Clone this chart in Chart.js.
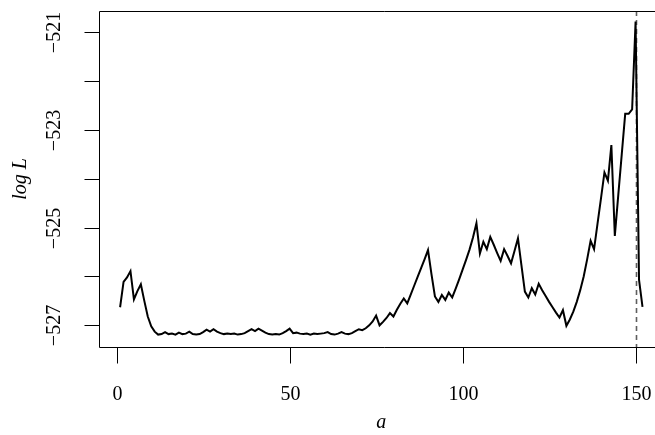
<!DOCTYPE html>
<html>
<head>
<meta charset="utf-8">
<script src="https://cdn.jsdelivr.net/npm/chart.js@4/dist/chart.umd.min.js"></script>
<style>
  html, body { margin: 0; padding: 0; background: #fff; overflow: hidden; }
  #wrap { width: 670px; height: 435px; }
</style>
</head>
<body>
<div id="wrap"><canvas id="chart" width="670" height="435"></canvas></div>
<script>
// a = 1..152
const aValues = [];
for (let i = 1; i <= 152; i++) aValues.push(i);

// log-likelihood
const logL = [
  -526.63, -526.11, -526.02, -525.89, -526.47, -526.30, -526.16, -526.50, -526.82, -527.02,
  -527.13, -527.19, -527.18, -527.14, -527.18, -527.17, -527.19, -527.15, -527.18, -527.17,
  -527.13, -527.18, -527.19, -527.18, -527.14, -527.09, -527.13, -527.08, -527.13, -527.16,
  -527.18, -527.17, -527.18, -527.17, -527.19, -527.18, -527.16, -527.12, -527.08, -527.12,
  -527.07, -527.11, -527.15, -527.18, -527.19, -527.18, -527.19, -527.16, -527.12, -527.07,
  -527.16, -527.15, -527.17, -527.18, -527.17, -527.19, -527.17, -527.18, -527.17, -527.16,
  -527.14, -527.18, -527.19, -527.17, -527.14, -527.17, -527.18, -527.16, -527.12, -527.08,
  -527.10, -527.06, -527.00, -526.92, -526.80, -527.00, -526.93, -526.85, -526.75, -526.82,
  -526.68, -526.56, -526.45, -526.55, -526.37, -526.19, -526.01, -525.83, -525.65, -525.46,
  -525.95, -526.41, -526.52, -526.38, -526.48, -526.33, -526.43, -526.25, -526.06, -525.86,
  -525.66, -525.45, -525.20, -524.91, -525.53, -525.29, -525.44, -525.19, -525.35, -525.52,
  -525.68, -525.44, -525.58, -525.73, -525.48, -525.22, -525.77, -526.31, -526.43, -526.24,
  -526.37, -526.15, -526.28, -526.40, -526.52, -526.63, -526.74, -526.84, -526.69, -527.01,
  -526.88, -526.72, -526.52, -526.28, -526.00, -525.65, -525.27, -525.44, -524.92, -524.40,
  -523.87, -524.04, -523.31, -525.17, -524.33, -523.50, -522.67, -522.67, -522.58, -520.78,
  -526.07, -526.62
];

const xTicks = [0, 50, 100, 150];
const yTicks = [-527, -526, -525, -524, -523, -522, -521];
const yTickLabels = ["\u2212527", "", "\u2212525", "", "\u2212523", "", "\u2212521"];
const markerA = 150;

const FONT = '"Liberation Serif", "DejaVu Serif", serif';

// R-style frame, ticks and labels
const axesPlugin = {
  id: 'rAxes',
  beforeDatasetsDraw(chart) {
    const { ctx, chartArea, scales } = chart;
    const x = Math.round(scales.x.getPixelForValue(markerA)) + 0.5;
    ctx.save();
    ctx.strokeStyle = '#5e5e5e';
    ctx.lineWidth = 1.6;
    ctx.setLineDash([5, 4]);
    ctx.beginPath();
    ctx.moveTo(x, chartArea.top);
    ctx.lineTo(x, chartArea.bottom);
    ctx.stroke();
    ctx.restore();
  },
  afterDraw(chart) {
    const { ctx, chartArea, scales } = chart;
    const l = Math.round(chartArea.left) + 0.5;
    const t = Math.round(chartArea.top) + 0.5;
    const b = Math.round(chartArea.bottom) + 0.5;
    const r = chart.width;
    ctx.save();
    ctx.strokeStyle = '#000';
    ctx.lineWidth = 1;
    ctx.beginPath();
    ctx.moveTo(r, t); ctx.lineTo(l, t); ctx.lineTo(l, b); ctx.lineTo(r, b);
    ctx.stroke();

    // x ticks
    ctx.fillStyle = '#000';
    ctx.font = '20px ' + FONT;
    ctx.textAlign = 'center';
    ctx.textBaseline = 'middle';
    xTicks.forEach(v => {
      const px = Math.round(scales.x.getPixelForValue(v)) + 0.5;
      ctx.beginPath();
      ctx.moveTo(px, b); ctx.lineTo(px, b + 16);
      ctx.stroke();
      ctx.fillText(String(v), px, 395);
    });

    // y ticks
    yTicks.forEach((v, i) => {
      const py = Math.round(scales.y.getPixelForValue(v)) + 0.5;
      ctx.beginPath();
      ctx.moveTo(l, py); ctx.lineTo(l - 15, py);
      ctx.stroke();
      if (yTickLabels[i]) {
        ctx.save();
        ctx.translate(55, py);
        ctx.rotate(-Math.PI / 2);
        ctx.fillText(yTickLabels[i], 0, 0);
        ctx.restore();
      }
    });

    // axis titles
    ctx.font = 'italic 20px ' + FONT;
    ctx.fillText('a', (chartArea.left + chartArea.right) / 2, 423);
    ctx.save();
    ctx.translate(21, (chartArea.top + chartArea.bottom) / 2);
    ctx.rotate(-Math.PI / 2);
    ctx.fillText('log L', 0, 0);
    ctx.restore();
    ctx.restore();
  }
};

new Chart(document.getElementById('chart').getContext('2d'), {
  type: 'line',
  data: {
    datasets: [{
      data: aValues.map((a, i) => ({ x: a, y: logL[i] })),
      borderColor: '#000',
      borderWidth: 2,
      pointRadius: 0,
      tension: 0,
      fill: false
    }]
  },
  options: {
    responsive: false,
    animation: false,
    devicePixelRatio: 1,
    layout: { padding: { left: 99.2, top: 11, right: 6.6, bottom: 88 } },
    plugins: { legend: { display: false }, tooltip: { enabled: false } },
    scales: {
      x: { type: 'linear', min: -5.04, max: 158.04, display: false },
      y: { type: 'linear', min: -527.444, max: -520.564, display: false }
    }
  },
  plugins: [axesPlugin]
});
</script>
</body>
</html>
